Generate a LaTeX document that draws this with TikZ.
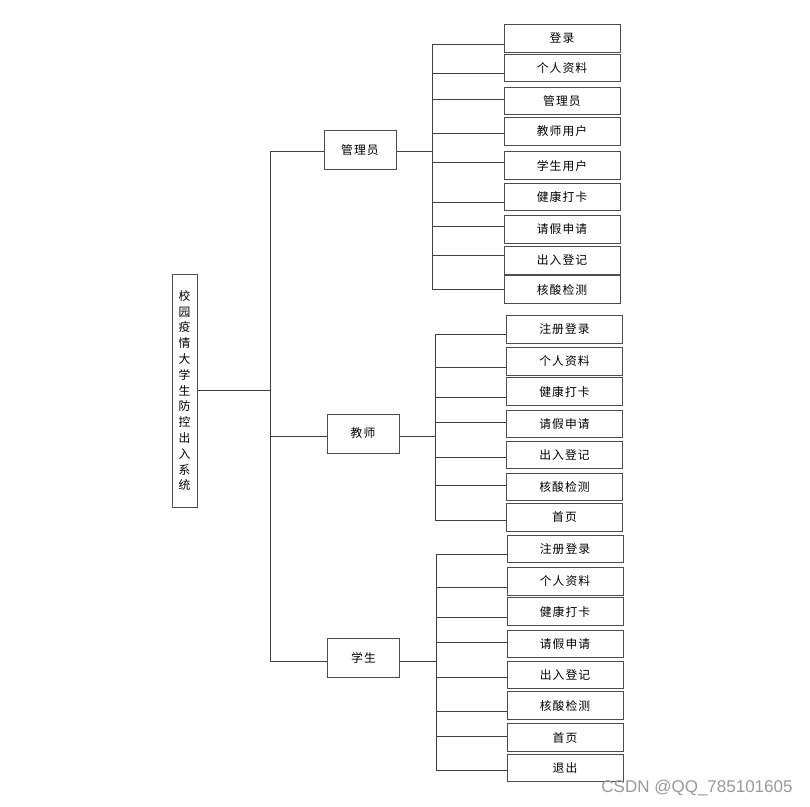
\documentclass[tikz,border=0pt]{standalone}
\usepackage{fontspec}
\newfontfamily\cjk[LetterSpace=9]{Noto Sans CJK SC}
\newfontfamily\cjkv{Noto Sans CJK SC}
\newfontfamily\wmfont{Liberation Sans}
\begin{document}
\begin{tikzpicture}[x=1pt,y=-1pt,
  conn/.style={draw=black!75, line width=0.9pt},
  boxstyle/.style={draw=black!70, line width=1pt, fill=white, inner sep=0pt,
     font=\cjk\fontsize{11.8}{13}\selectfont},
  leaf/.style={boxstyle, minimum width=116pt, minimum height=27.5pt},
  mid/.style={boxstyle, minimum width=72pt, minimum height=39pt}]
\useasboundingbox (0,0) rectangle (810,806);

% root
\node[draw=black!70, line width=1pt, minimum width=25pt, minimum height=233pt, inner sep=0pt,
  align=center, font=\cjkv\fontsize{11.8}{15.8}\selectfont] (root) at (184.5,390.5)
  {校\\园\\疫\\情\\大\\学\\生\\防\\控\\出\\入\\系\\统};

% main bus
\coordinate (m1) at (270,151);
\coordinate (m2) at (270,436);
\coordinate (m3) at (270,661);
\draw[conn] (m1) -- (m3);
\draw[conn] (root.east) -- (root.east -| m1);

% second level
\node[mid] (adm) at (360,150) {管理员};
\node[mid] (tea) at (363,433.5) {教师};
\node[mid] (stu) at (363.5,657.5) {学生};
\draw[conn] (m1) -- (m1 -| adm.west);
\draw[conn] (m2) -- (m2 -| tea.west);
\draw[conn] (m3) -- (m3 -| stu.west);

% admin leaves
\foreach [count=\i] \ya/\yb/\yc/\t in {25/52/44/登录,54/82/73/个人资料,87/115/99/管理员,118/145/133/教师用户,152/179/162/学生用户,183/211/202/健康打卡,216/243/226/请假申请,247/274/255/出入登记,276/303/289/核酸检测}{
  \node[leaf] (a\i) at (562,{(\ya+\yb)/2}) {\t};
  \coordinate (ab\i) at (432,\yc);
  \draw[conn] (ab\i) -- (ab\i -| a\i.west);
}
\draw[conn] (ab1) -- (ab9);
\draw[conn] (adm.east |- m1) -- (ab1 |- m1);

% teacher leaves
\foreach [count=\i] \ya/\yb/\yc/\t in {316/343/334/注册登录,348/375/367/个人资料,378/405/397/健康打卡,410/438/422/请假申请,441/469/457/出入登记,473/501/485/核酸检测,504/531/520/首页}{
  \node[leaf] (t\i) at (564.5,{(\ya+\yb)/2}) {\t};
  \coordinate (tb\i) at (435,\yc);
  \draw[conn] (tb\i) -- (tb\i -| t\i.west);
}
\draw[conn] (tb1) -- (tb7);
\draw[conn] (tea.east |- m2) -- (tb1 |- m2);

% student leaves
\foreach [count=\i] \ya/\yb/\yc/\t in {535/563/554/注册登录,568/595/587/个人资料,598/625/617/健康打卡,630/658/642/请假申请,661/689/677/出入登记,692/719/711/核酸检测,724/751/736/首页,754/782/770/退出}{
  \node[leaf] (s\i) at (565,{(\ya+\yb)/2}) {\t};
  \coordinate (sb\i) at (436,\yc);
  \draw[conn] (sb\i) -- (sb\i -| s\i.west);
}
\draw[conn] (sb1) -- (sb8);
\draw[conn] (stu.east |- m3) -- (sb1 |- m3);

% watermark
\node[font=\wmfont\fontsize{17}{18}\selectfont, text=black!40, inner sep=0pt] (wm) at (697,788) {CSDN @QQ\_785101605};
\end{tikzpicture}
\end{document}
